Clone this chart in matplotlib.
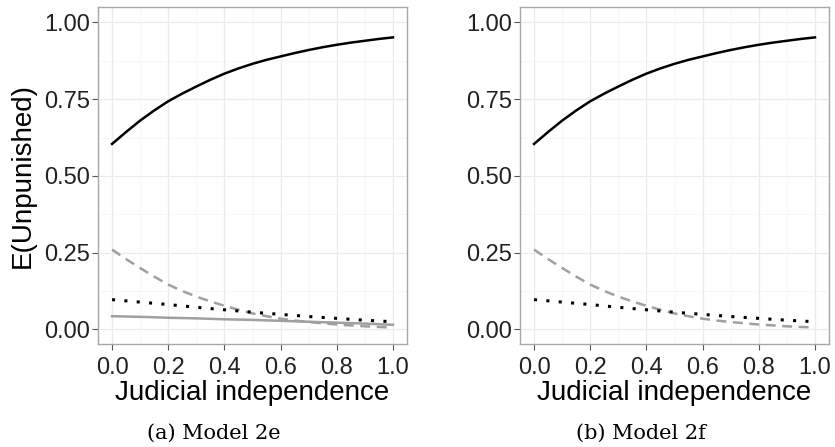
import matplotlib
matplotlib.use("Agg")
import matplotlib.pyplot as plt
import numpy as np

x_fine = [0.00, 0.05, 0.10, 0.15, 0.20, 0.25, 0.30, 0.35, 0.40, 0.45, 0.50,
          0.55, 0.60, 0.65, 0.70, 0.75, 0.80, 0.85, 0.90, 0.95, 1.00]
black_solid = [0.604, 0.643, 0.680, 0.713, 0.743, 0.768, 0.791, 0.813, 0.833, 0.850, 0.865,
               0.878, 0.889, 0.900, 0.910, 0.919, 0.927, 0.934, 0.940, 0.946, 0.951]
gray_dashed = [0.260, 0.229, 0.200, 0.172, 0.146, 0.125, 0.107, 0.091, 0.077, 0.064, 0.052,
               0.043, 0.035, 0.029, 0.024, 0.020, 0.016, 0.013, 0.010, 0.008, 0.006]
x = [0.0, 0.1, 0.2, 0.3, 0.4, 0.5, 0.6, 0.7, 0.8, 0.9, 1.0]
black_dotted = [0.097, 0.089, 0.081, 0.072, 0.064, 0.056, 0.049, 0.042, 0.036, 0.030, 0.025]
gray_solid_a = [0.043, 0.041, 0.038, 0.036, 0.033, 0.031, 0.028, 0.025, 0.022, 0.019, 0.015]

xticks = [0.0, 0.2, 0.4, 0.6, 0.8, 1.0]
xticklabels = ["0.0", "0.2", "0.4", "0.6", "0.8", "1.0"]
yticks = [0.0, 0.25, 0.5, 0.75, 1.0]
yticklabels = ["0.00", "0.25", "0.50", "0.75", "1.00"]
captions = ["(a) Model 2e", "(b) Model 2f"]
caption_x = [214/835, 641/835]

plt.rcParams['font.family'] = ['Liberation Sans', 'DejaVu Sans']

fig = plt.figure(figsize=(8.35, 4.47), dpi=100)
positions = [[98/835, 103/447, 309/835, 337/447], [520/835, 103/447, 309/835, 337/447]]

for i, pos in enumerate(positions):
    ax = fig.add_axes(pos)
    ax.set_xlim(-0.05, 1.05)
    ax.set_ylim(-0.0475, 1.05)
    ax.set_xticks(xticks)
    ax.set_xticklabels(xticklabels)
    ax.set_yticks(yticks)
    ax.set_yticklabels(yticklabels)
    ax.set_xticks([0.1, 0.3, 0.5, 0.7, 0.9], minor=True)
    ax.set_yticks([0.125, 0.375, 0.625, 0.875], minor=True)
    ax.grid(which='major', color='#ebebeb', linewidth=0.9)
    ax.grid(which='minor', color='#f4f4f4', linewidth=0.5)
    ax.tick_params(which='minor', length=0)
    ax.tick_params(which='major', length=4, color='#555555', width=0.8,
                   labelsize=17, labelcolor='#222222', pad=2)
    ax.tick_params(axis='x', which='major', pad=5)
    ax.set_axisbelow(True)
    for s in ax.spines.values():
        s.set_color('#a8a8a8')
        s.set_linewidth(1.0)

    ax.plot(x_fine, black_solid, color='black', lw=1.8)
    ax.plot(x_fine, gray_dashed, color='#a0a0a0', lw=1.8, dashes=(4, 2.6))
    ax.plot(x, black_dotted, color='black', lw=2.2, dashes=(1, 3.05), dash_capstyle='butt')
    if i == 0:
        ax.plot(x, gray_solid_a, color='#a0a0a0', lw=1.8)
        ax.set_ylabel("E(Unpunished)", fontsize=20, labelpad=6)
    ax.set_xlabel("Judicial independence", fontsize=20, labelpad=1)
    fig.text(caption_x[i], 14/447, captions[i],
             ha='center', va='center', fontsize=15, family='DejaVu Serif')

fig.savefig("out.png", dpi=100)
